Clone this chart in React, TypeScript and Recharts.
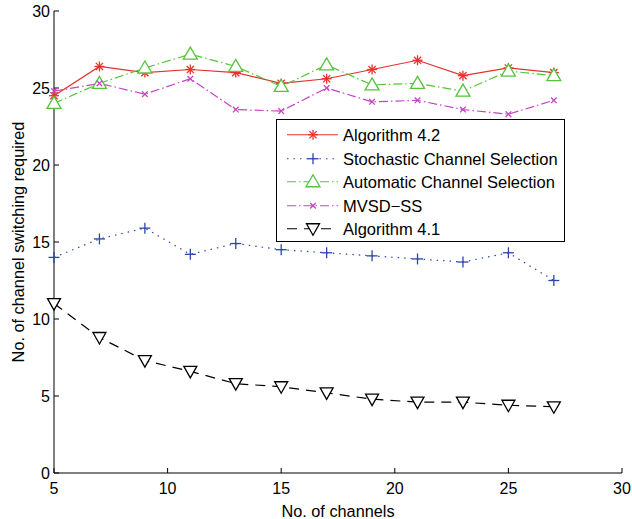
import React from "react";
import { LineChart, Line, XAxis, YAxis, Legend } from "recharts";

const channels = [5, 7, 9, 11, 13, 15, 17, 19, 21, 23, 25, 27];
const algorithm42 = [24.5, 26.4, 26.0, 26.2, 26.0, 25.3, 25.6, 26.2, 26.8, 25.8, 26.3, 26.0];
const stochastic = [14.0, 15.2, 15.9, 14.2, 14.9, 14.5, 14.3, 14.1, 13.9, 13.7, 14.3, 12.5];
const automatic = [24.0, 25.3, 26.3, 27.2, 26.4, 25.1, 26.5, 25.2, 25.3, 24.8, 26.1, 25.8];
const mvsd = [24.8, 25.3, 24.6, 25.6, 23.6, 23.5, 25.0, 24.1, 24.2, 23.6, 23.3, 24.2];
const algorithm41 = [11.0, 8.8, 7.3, 6.6, 5.8, 5.6, 5.2, 4.8, 4.6, 4.6, 4.4, 4.3];

const xTicks = [5, 10, 15, 20, 25, 30];
const yTicks = [0, 5, 10, 15, 20, 25, 30];

const FONT = "Arial, 'Liberation Sans', Helvetica, sans-serif";

type MarkerKind = "star" | "plus" | "up" | "cross" | "down";

function Marker({ kind, cx, cy, color }: { kind: MarkerKind; cx: number; cy: number; color: string }) {
  const s = { stroke: color, strokeWidth: 1.3, fill: "none" };
  if (kind === "star") {
    const r = 5;
    const d = 3.6;
    return (
      <g {...s}>
        <line x1={cx - r} y1={cy} x2={cx + r} y2={cy} />
        <line x1={cx} y1={cy - r} x2={cx} y2={cy + r} />
        <line x1={cx - d} y1={cy - d} x2={cx + d} y2={cy + d} />
        <line x1={cx - d} y1={cy + d} x2={cx + d} y2={cy - d} />
      </g>
    );
  }
  if (kind === "plus") {
    const r = 5.5;
    return (
      <g {...s}>
        <line x1={cx - r} y1={cy} x2={cx + r} y2={cy} />
        <line x1={cx} y1={cy - r} x2={cx} y2={cy + r} />
      </g>
    );
  }
  if (kind === "cross") {
    const r = 2.8;
    return (
      <g {...s}>
        <line x1={cx - r} y1={cy - r} x2={cx + r} y2={cy + r} />
        <line x1={cx - r} y1={cy + r} x2={cx + r} y2={cy - r} />
      </g>
    );
  }
  if (kind === "up") {
    return <polygon {...s} fill="#fff" points={`${cx},${cy - 7} ${cx + 7},${cy + 5} ${cx - 7},${cy + 5}`} />;
  }
  return <polygon {...s} fill="#fff" points={`${cx - 6.5},${cy - 5} ${cx + 6.5},${cy - 5} ${cx},${cy + 6.5}`} />;
}

const series = [
  { key: "a42", name: "Algorithm 4.2", color: "#e8302a", dash: undefined, marker: "star" as MarkerKind },
  { key: "scs", name: "Stochastic Channel Selection", color: "#2b45a8", dash: "1.5 5", marker: "plus" as MarkerKind },
  { key: "acs", name: "Automatic Channel Selection", color: "#55c43a", dash: "9 3 1.5 3", marker: "up" as MarkerKind },
  { key: "mvsd", name: "MVSD\u2212SS", color: "#c444c4", dash: "9 3 1.5 3", marker: "cross" as MarkerKind },
  { key: "a41", name: "Algorithm 4.1", color: "#000000", dash: "10 7", marker: "down" as MarkerKind },
];

const data = channels.map((c, i) => ({
  ch: c,
  a42: algorithm42[i],
  scs: stochastic[i],
  acs: automatic[i],
  mvsd: mvsd[i],
  a41: algorithm41[i],
}));

function LegendBox() {
  return (
    <div
      style={{
        position: "relative",
        width: 287,
        height: 121,
        border: "1.3px solid #000",
        background: "#fff",
        fontFamily: FONT,
        fontSize: 16.5,
      }}
    >
      {series.map((s, i) => (
        <div key={s.key} style={{ position: "absolute", left: 0, top: 3 + i * 23.5, height: 23.5, width: 287 }}>
          <svg width={62} height={23.5} style={{ position: "absolute", left: 0, top: 0 }}>
            <line x1={10} y1={11.75} x2={61} y2={11.75} stroke={s.color} strokeWidth={1.2} strokeDasharray={s.dash} />
            <Marker kind={s.marker} cx={36} cy={11.75} color={s.color} />
          </svg>
          <span style={{ position: "absolute", left: 66, top: 2, lineHeight: "20px", color: "#000", whiteSpace: "nowrap" }}>
            {s.name}
          </span>
        </div>
      ))}
    </div>
  );
}

export default function App() {
  return (
    <div style={{ position: "absolute", left: 0, top: 0, width: 632, height: 519, background: "#fff" }}>
      <LineChart width={632} height={519} data={data} margin={{ top: 11, right: 10, left: 0, bottom: 0 }}>
        <XAxis
          dataKey="ch"
          type="number"
          domain={[5, 30]}
          ticks={xTicks}
          height={46}
          stroke="#000"
          tickSize={-5}
          tickMargin={15}
          tick={{ fill: "#000", fontSize: 16, fontFamily: FONT }}
          label={{ value: "No. of channels", position: "insideBottom", offset: 2, fill: "#000", fontSize: 16.3, fontFamily: FONT }}
        />
        <XAxis xAxisId="top" orientation="top" type="number" domain={[5, 30]} ticks={xTicks} height={0} stroke="#000" tickSize={5} tick={false} />
        <YAxis
          type="number"
          domain={[0, 30]}
          ticks={yTicks}
          width={54}
          stroke="#000"
          tickSize={-5}
          tickMargin={9}
          tick={{ fill: "#000", fontSize: 16, fontFamily: FONT }}
          label={{
            value: "No. of channel switching required",
            angle: -90,
            position: "insideLeft",
            offset: 18,
            fill: "#000",
            fontSize: 16.3,
            fontFamily: FONT,
            style: { textAnchor: "middle" },
          }}
        />
        <YAxis yAxisId="right" orientation="right" type="number" domain={[0, 30]} ticks={yTicks} width={0} stroke="#000" tickSize={5} tick={false} />
        <Legend
          layout="vertical"
          align="center"
          verticalAlign="middle"
          wrapperStyle={{ left: 276, top: 119, width: 289, height: 123 }}
          content={() => <LegendBox />}
        />
        {series.map((s) => (
          <Line
            key={s.key}
            dataKey={s.key}
            name={s.name}
            type="linear"
            stroke={s.color}
            strokeWidth={1.2}
            strokeDasharray={s.dash}
            isAnimationActive={false}
            activeDot={false}
            dot={(p: any) => (
              <g key={`${s.key}-${p.index}`}>
                <Marker kind={s.marker} cx={p.cx} cy={p.cy} color={s.color} />
              </g>
            )}
          />
        ))}
      </LineChart>
    </div>
  );
}
